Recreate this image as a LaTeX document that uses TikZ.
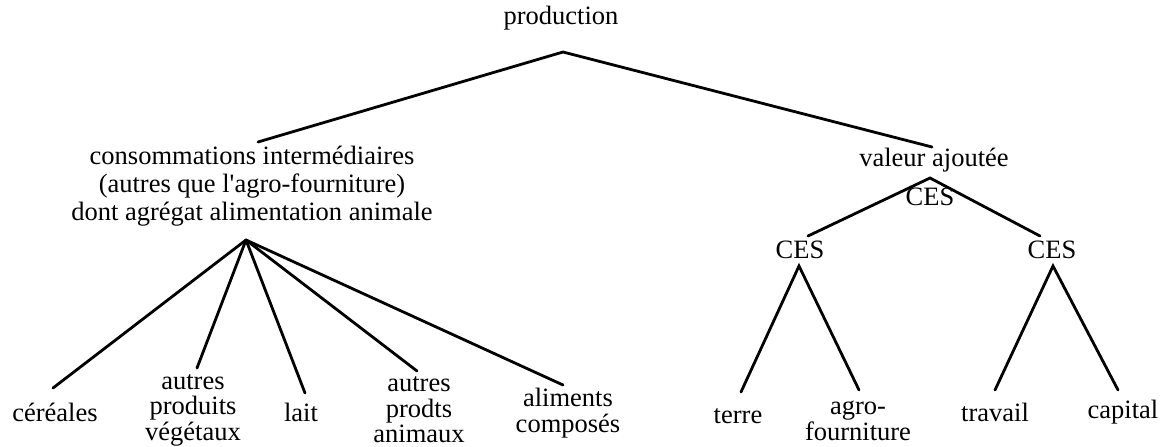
\documentclass[tikz,border=0pt]{standalone}
\usepackage{fontspec}
\setmainfont[Ligatures=TeXOff]{Liberation Serif}
\begin{document}
\begin{tikzpicture}[x=1pt,y=-1pt,
  lbl/.style={inner sep=0pt, align=center, font=\fontsize{26.5}{27}\selectfont},
  edge/.style={line width=2.8pt, line cap=round}]
\useasboundingbox (0,0) rectangle (1165,447);
% nodes
\node[lbl] (prod) at (561,18) {production};
\node[lbl, font=\fontsize{26.5}{28}\selectfont] (ci) at (252,186) {consommations intermédiaires\\(autres que l'agro-fourniture)\\dont agrégat alimentation animale};
\node[lbl] (va) at (934,160) {valeur ajoutée};
\node[lbl] (ces0) at (930,197) {CES};
\node[lbl] (ces1) at (800,250) {CES};
\node[lbl] (ces2) at (1052,250) {CES};
\node[lbl] (cer) at (55,412) {céréales};
\node[lbl, font=\fontsize{26.5}{25.5}\selectfont] (apv) at (193,410) {autres\\produits\\végétaux};
\node[lbl] (lait) at (301,412) {lait};
\node[lbl, font=\fontsize{26.5}{25.5}\selectfont] (apa) at (419,410) {autres\\prodts\\animaux};
\node[lbl, font=\fontsize{26.5}{25.5}\selectfont] (alc) at (568,413) {aliments\\composés};
\node[lbl] (terre) at (738,416) {terre};
\node[lbl, font=\fontsize{26.5}{25.5}\selectfont] (agro) at (858,421) {agro-\\fourniture};
\node[lbl] (trav) at (995,412) {travail};
\node[lbl] (cap) at (1123,412) {capital};
% anchor points of connectors
\coordinate (p0) at (563,52);
\coordinate (p1) at (258,142);
\coordinate (p2) at (932,147);
\coordinate (f0) at (246,240);
\coordinate (c1) at (53,388);
\coordinate (c2) at (197,368);
\coordinate (c3) at (305,393);
\coordinate (c4) at (417,371);
\coordinate (c5) at (563,385);
\coordinate (v0) at (930,178);
\coordinate (v1) at (808,236);
\coordinate (v2) at (1040,236);
\coordinate (l0) at (799,266);
\coordinate (l1) at (741,392);
\coordinate (l2) at (859,390);
\coordinate (r0) at (1053,266);
\coordinate (r1) at (995,390);
\coordinate (r2) at (1118,390);
% connectors
\draw[edge] (p1) -- (p0) -- (p2);
\draw[edge] (f0) -- (c1);
\draw[edge] (f0) -- (c2);
\draw[edge] (f0) -- (c3);
\draw[edge] (f0) -- (c4);
\draw[edge] (f0) -- (c5);
\draw[edge] (v1) -- (v0) -- (v2);
\draw[edge] (l1) -- (l0) -- (l2);
\draw[edge] (r1) -- (r0) -- (r2);
\end{tikzpicture}
\end{document}
